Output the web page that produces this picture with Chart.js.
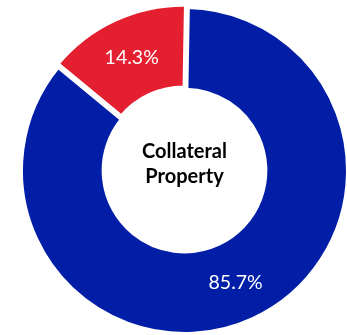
<!DOCTYPE html>
<html>
<head>
<meta charset="utf-8">
<script src="https://cdn.jsdelivr.net/npm/chart.js@4"></script>
<style>
  html, body { margin: 0; padding: 0; background: #ffffff; }
  #wrap { position: relative; width: 347px; height: 335px; }
</style>
</head>
<body>
<div id="wrap"><canvas id="c"></canvas></div>
<script>
// ---- data ----
const categories = ["Share A", "Share B"];
const values = [85.7, 14.3];
const sliceColors = ["#021EA7", "#E31F30"];
const centerLines = ["Collateral", "Property"];

const labelPlugin = {
  id: 'sliceLabels',
  afterDatasetsDraw(chart) {
    const ctx = chart.ctx;
    const meta = chart.getDatasetMeta(0);
    ctx.save();
    ctx.fillStyle = '#ffffff';
    ctx.font = '19.5px Lato';
    ctx.textAlign = 'center';
    ctx.textBaseline = 'middle';
    meta.data.forEach((arc, i) => {
      const p = arc.tooltipPosition();
      ctx.fillText(values[i].toFixed(1) + '%', p.x, p.y + 1.5);
    });
    ctx.restore();
  }
};

const centerPlugin = {
  id: 'centerText',
  afterDraw(chart) {
    const ctx = chart.ctx;
    const arc = chart.getDatasetMeta(0).data[0];
    const cx = arc.x, cy = arc.y;
    ctx.save();
    ctx.fillStyle = '#000000';
    ctx.font = 'bold 20px Lato';
    ctx.textAlign = 'center';
    ctx.textBaseline = 'alphabetic';
    ctx.fillText(centerLines[0], cx, cy - 13);
    ctx.fillText(centerLines[1], cx, cy + 12.5);
    ctx.restore();
  }
};

new Chart(document.getElementById('c'), {
  type: 'doughnut',
  data: {
    labels: categories,
    datasets: [{
      data: values,
      backgroundColor: sliceColors,
      borderColor: '#ffffff',
      borderWidth: 5,
      borderJoinStyle: 'miter',
      offset: [0, 8],
      hoverOffset: 0
    }]
  },
  options: {
    responsive: true,
    maintainAspectRatio: false,
    animation: false,
    events: [],
    rotation: 1,
    radius: 164,
    cutout: '49%',
    layout: { padding: { left: 22, right: 0, top: 6, bottom: 0 } },
    plugins: {
      legend: { display: false },
      tooltip: { enabled: false },
      title: { display: false }
    }
  },
  plugins: [labelPlugin, centerPlugin]
});
</script>
</body>
</html>
